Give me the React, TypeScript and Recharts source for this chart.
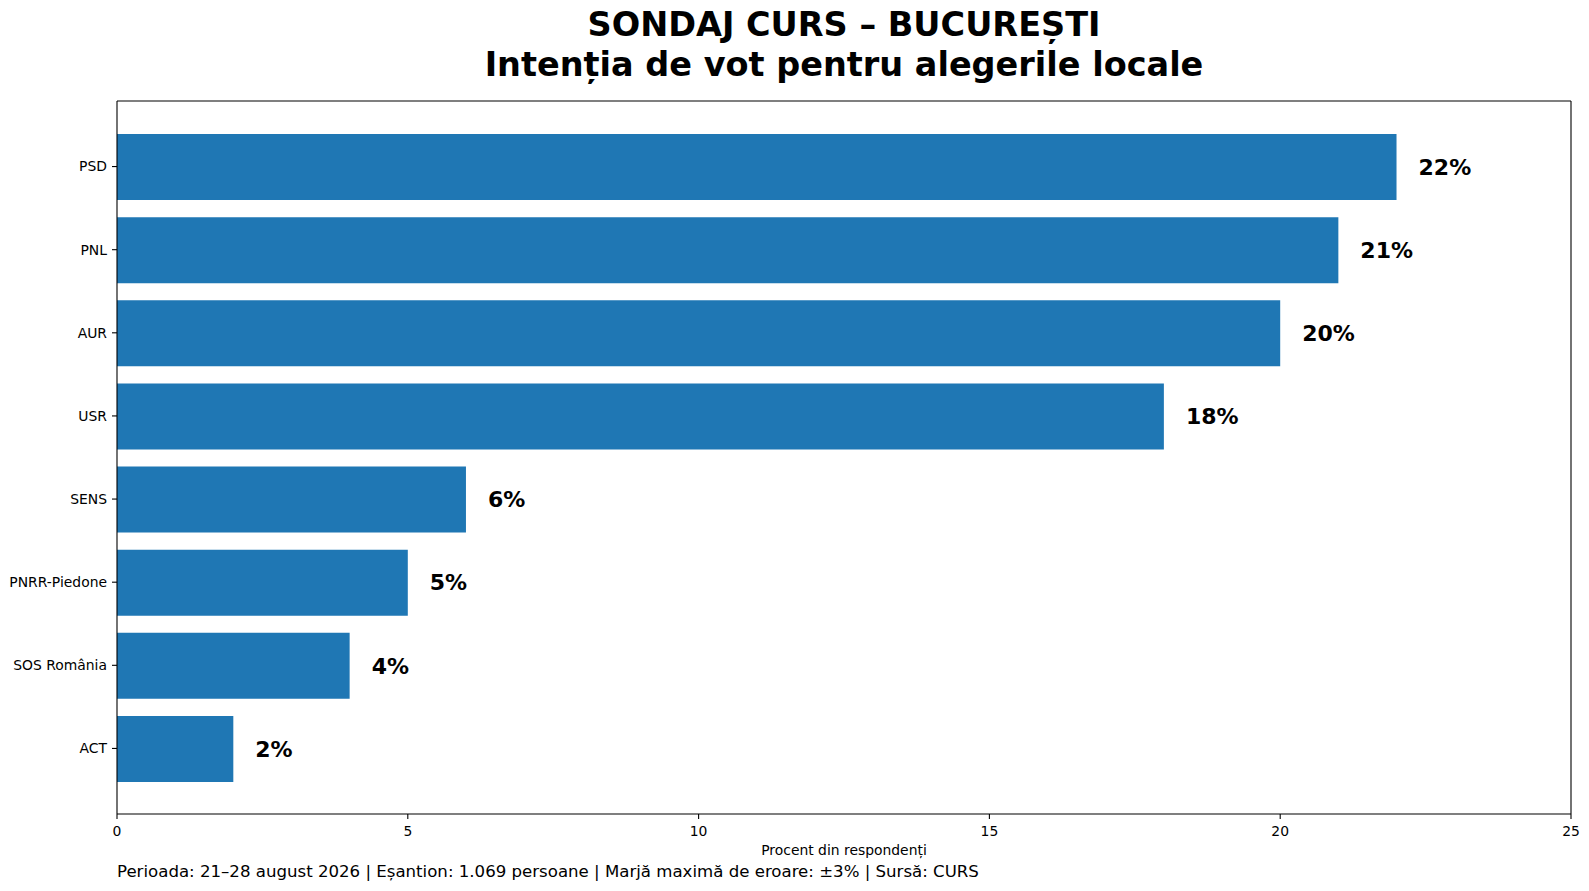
import { BarChart, Bar, XAxis, YAxis, LabelList } from 'recharts';

// CURS poll, Bucharest local elections — horizontal bars, values in %
const parties = ['PSD', 'PNL', 'AUR', 'USR', 'SENS', 'PNRR-Piedone', 'SOS România', 'ACT'];
const votes = [22, 21, 20, 18, 6, 5, 4, 2];
const xTicks = [0, 5, 10, 15, 20, 25];

const data = parties.map((party, i) => ({ party, value: votes[i] }));

const FONT = '"DejaVu Sans", sans-serif';
const black = { stroke: '#000', strokeWidth: 1.1 };

export default function App() {
  return (
    <div
      style={{
        position: 'absolute',
        left: 0,
        top: 0,
        width: 1589,
        height: 891,
        background: '#ffffff',
        fontFamily: FONT,
      }}
    >
      <div
        style={{
          position: 'absolute',
          left: 344,
          width: 1000,
          top: 5,
          textAlign: 'center',
          fontWeight: 'bold',
          fontSize: 33.5,
          lineHeight: '39.5px',
          color: '#000',
        }}
      >
        SONDAJ CURS – BUCUREȘTI
        <br />
        Intenția de vot pentru alegerile locale
      </div>

      <BarChart
        width={1589}
        height={891}
        data={data}
        layout="vertical"
        margin={{ top: 100, right: 17, bottom: 36, left: 0 }}
        style={{ position: 'absolute', left: 0, top: 0, fontFamily: FONT }}
      >
        <XAxis
          type="number"
          domain={[0, 25]}
          ticks={xTicks}
          height={41}
          tickSize={5}
          tickMargin={7}
          axisLine={black}
          tickLine={black}
          tick={{ fill: '#000', fontSize: 13.9 }}
          label={{
            value: 'Procent din respondenți',
            position: 'insideBottom',
            offset: 0,
            style: { fill: '#000', fontSize: 13.9 },
          }}
        />
        <XAxis
          xAxisId="top"
          orientation="top"
          type="number"
          domain={[0, 25]}
          height={1}
          tick={false}
          tickLine={false}
          axisLine={black}
        />
        <YAxis
          type="category"
          dataKey="party"
          width={117}
          tickSize={5}
          tickMargin={5}
          padding={{ top: 24, bottom: 24 }}
          axisLine={black}
          tickLine={black}
          tick={{ fill: '#000', fontSize: 13.9 }}
        />
        <YAxis
          yAxisId="right"
          orientation="right"
          type="number"
          domain={[0, 1]}
          width={1}
          tick={false}
          tickLine={false}
          axisLine={black}
        />
        <Bar dataKey="value" fill="#1f77b4" barSize={66} isAnimationActive={false}>
          <LabelList
            dataKey="value"
            position="right"
            offset={22}
            formatter={(v: number) => `${v}%`}
            style={{ fill: '#000', fontSize: 22, fontWeight: 'bold', fontFamily: FONT }}
          />
        </Bar>
      </BarChart>

      <div
        style={{
          position: 'absolute',
          left: 117,
          top: 862,
          fontSize: 16.6,
          lineHeight: '20px',
          color: '#000',
        }}
      >
        Perioada: 21–28 august 2026 | Eșantion: 1.069 persoane | Marjă maximă de eroare: ±3% | Sursă: CURS
      </div>
    </div>
  );
}
